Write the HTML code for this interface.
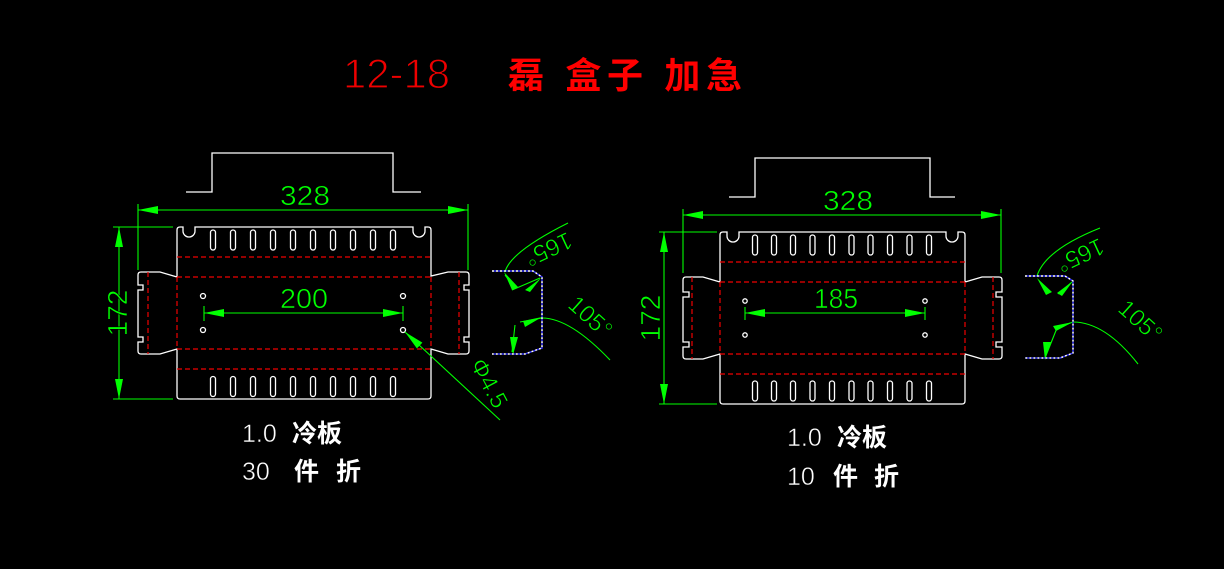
<!DOCTYPE html>
<html><head><meta charset="utf-8"><style>
html,body{margin:0;padding:0;background:#000;width:1224px;height:569px;overflow:hidden}
svg{display:block}
text{font-family:"Liberation Sans","Noto Sans CJK SC",sans-serif}
.d{font-weight:normal;stroke:#000;stroke-width:0.6;paint-order:normal}
</style></head><body>
<svg width="1224" height="569" viewBox="0 0 1224 569" xmlns="http://www.w3.org/2000/svg">
<rect width="1224" height="569" fill="#000"/>
<text x="343" y="88" fill="#e00" font-size="42" stroke="#000" stroke-width="1.2" textLength="107" lengthAdjust="spacingAndGlyphs">12-18</text>
<text x="508" y="88" fill="#f00" font-size="36" font-weight="bold" font-family="'Noto Sans CJK SC',sans-serif" textLength="234" lengthAdjust="spacing">磊 盒子 加急</text>

<defs>
<marker id="ar" viewBox="0 0 20 8" refX="20" refY="4" markerWidth="20" markerHeight="8" orient="auto-start-reverse" markerUnits="userSpaceOnUse"><path d="M0,0 L20,4 L0,8z" fill="#0f0"/></marker>
</defs>

<!-- LEFT -->
<g fill="none" stroke="#fff" stroke-width="1.3">
<path d="M186,192 H212 V153 H393 V192 H421"/>
<path d="M180,227 H183 V231 A6,6 0 1 0 195,231 V227 H413 V231 A6,6 0 1 0 425,231 V227 H428 Q431,227 431,230 V276 L448,272 H466 Q469,272 469,275 V285 H464 V290 H469 V337 H464 V342 H469 V351 Q469,354 466,354 H448 L431,349 V396 Q431,399 428,399 H180 Q177,399 177,396 V349 L160,354 H141 Q138,354 138,351 V342 H143 V337 H138 V290 H143 V285 H138 V275 Q138,272 141,272 H160 L177,277 V230 Q177,227 180,227Z"/>
<g id="sl1">
<rect x="210.5" y="230" width="5" height="20" rx="2.5"/><rect x="230.5" y="230" width="5" height="20" rx="2.5"/><rect x="250.5" y="230" width="5" height="20" rx="2.5"/><rect x="270.5" y="230" width="5" height="20" rx="2.5"/><rect x="290.5" y="230" width="5" height="20" rx="2.5"/><rect x="310.5" y="230" width="5" height="20" rx="2.5"/><rect x="330.5" y="230" width="5" height="20" rx="2.5"/><rect x="350.5" y="230" width="5" height="20" rx="2.5"/><rect x="370.5" y="230" width="5" height="20" rx="2.5"/><rect x="390.5" y="230" width="5" height="20" rx="2.5"/>
</g>
<use href="#sl1" y="146.5"/>
<circle cx="203" cy="296" r="2.5"/><circle cx="403" cy="296" r="2.5"/><circle cx="203" cy="330" r="2.5"/><circle cx="403" cy="330" r="2.5"/>
</g>
<g stroke="#e00" stroke-width="1.2" stroke-dasharray="5,3" fill="none">
<path d="M177,257 H431 M177,277 H431 M177,349 H431 M177,369 H431 M177,277 V349 M431,277 V349 M148,272 V354 M459,272 V354"/>
</g>
<g stroke="#0f0" stroke-width="1.1" fill="none">
<path d="M138,204 V270 M468,204 V270 M113,227 H173 M113,399 H173 M204,306 V321 M403,306 V321"/>
<path d="M138,210 H468" marker-start="url(#ar)" marker-end="url(#ar)"/>
<path d="M119,227 V399" marker-start="url(#ar)" marker-end="url(#ar)"/>
<path d="M204,313 H403" marker-start="url(#ar)" marker-end="url(#ar)"/>
<path d="M500,420 L405,332" marker-end="url(#ar)"/>
<path d="M505,272 Q510,252 568,223"/>
<path d="M542,318 Q570,318 610,360"/>
<path d="M505,275 L515,288 M512,290 L540,278 M512,352 L515,325 M520,322 L542,318"/>
</g>
<g fill="#0f0"><path d="M504,272 L512,290 L518,287Z M541,278 L525,290 L530,292Z M513,355 L510,337 L518,337Z M542,317 L523,321 L525,327Z"/></g>
<path d="M492,271 H533 L542,277 V348 L525,354 H492" fill="none" stroke="#fff" stroke-width="1.5" stroke-dasharray="2,2"/>
<path d="M492,271 H533 L542,277 V348 L525,354 H492" fill="none" stroke="#33f" stroke-width="1.5" stroke-dasharray="2,2" stroke-dashoffset="2"/>
<g fill="#0f0" font-size="28" class="d">
<text x="280" y="205" textLength="50" lengthAdjust="spacingAndGlyphs">328</text>
<text x="280" y="308" textLength="48" lengthAdjust="spacingAndGlyphs">200</text>
<text transform="translate(127,313) rotate(-90)" text-anchor="middle">172</text>
<text transform="translate(545,242) rotate(155)" text-anchor="middle" font-size="24">165°</text>
<text transform="translate(585,323) rotate(42)" text-anchor="middle" font-size="24">105°</text>
<text transform="translate(482,387) rotate(62)" text-anchor="middle" font-size="24">Φ4.5</text>
</g>
<text x="242" y="442" fill="#fff" font-size="25" stroke="#000" stroke-width="0.5">1.0<tspan x="292" font-family="'Noto Sans CJK SC',sans-serif" font-weight="bold" stroke="none">冷板</tspan></text>
<text x="242" y="480" fill="#fff" font-size="25" stroke="#000" stroke-width="0.5">30<tspan x="294" font-family="'Noto Sans CJK SC',sans-serif" font-weight="bold" stroke="none">件</tspan><tspan x="336" font-family="'Noto Sans CJK SC',sans-serif" font-weight="bold" stroke="none">折</tspan></text>

<!-- RIGHT -->
<g fill="none" stroke="#fff" stroke-width="1.3">
<path d="M729,197 H755 V158 H930 V197 H955"/>
<path d="M723,232 H727 V236 A6,6 0 1 0 739,236 V232 H946 V236 A6,6 0 1 0 958,236 V232 H962 Q965,232 965,235 V282 L982,277 H999 Q1002,277 1002,280 V292 H996 V297 H1002 V342 H996 V347 H1002 V356 Q1002,359 999,359 H982 L965,354 V401 Q965,404 962,404 H723 Q720,404 720,401 V354 L703,359 H686 Q683,359 683,356 V347 H689 V342 H683 V297 H689 V292 H683 V280 Q683,277 686,277 H703 L720,282 V235 Q720,232 723,232Z"/>
<g id="sl2">
<rect x="752.5" y="235" width="5" height="20" rx="2.5"/><rect x="771.5" y="235" width="5" height="20" rx="2.5"/><rect x="790.5" y="235" width="5" height="20" rx="2.5"/><rect x="810" y="235" width="5" height="20" rx="2.5"/><rect x="829.5" y="235" width="5" height="20" rx="2.5"/><rect x="849" y="235" width="5" height="20" rx="2.5"/><rect x="868" y="235" width="5" height="20" rx="2.5"/><rect x="887.5" y="235" width="5" height="20" rx="2.5"/><rect x="907" y="235" width="5" height="20" rx="2.5"/><rect x="926.5" y="235" width="5" height="20" rx="2.5"/>
</g>
<use href="#sl2" y="146"/>
<circle cx="745" cy="301" r="2.2"/><circle cx="925" cy="301" r="2.2"/><circle cx="745" cy="335" r="2.2"/><circle cx="925" cy="335" r="2.2"/>
</g>
<g stroke="#e00" stroke-width="1.2" stroke-dasharray="5,3" fill="none">
<path d="M720,262 H965 M720,282 H965 M720,354 H965 M720,374 H965 M720,282 V354 M965,282 V354 M692,277 V359 M993,277 V359"/>
</g>
<g stroke="#0f0" stroke-width="1.1" fill="none">
<path d="M683,209 V273 M1001,209 V273 M659,232 H717 M659,404 H717 M745,307 V320 M925,307 V320"/>
<path d="M683,215 H1001" marker-start="url(#ar)" marker-end="url(#ar)"/>
<path d="M664,232 V404" marker-start="url(#ar)" marker-end="url(#ar)"/>
<path d="M745,313 H925" marker-start="url(#ar)" marker-end="url(#ar)"/>
<path d="M1037,276 Q1045,250 1100,228"/>
<path d="M1073,322 Q1105,322 1138,364"/>
<path d="M1058,294 L1072,282 M1045,358 L1057,328 M1057,328 L1073,322"/>
</g>
<g fill="#0f0"><path d="M1037,278 L1046,295 L1052,292Z M1073,281 L1057,293 L1062,296Z M1045,360 L1043,342 L1051,342Z M1073,322 L1053,326 L1056,331Z"/></g>
<path d="M1025,276 H1065 L1073,281 V353 L1060,358 H1025" fill="none" stroke="#fff" stroke-width="1.5" stroke-dasharray="2,2"/>
<path d="M1025,276 H1065 L1073,281 V353 L1060,358 H1025" fill="none" stroke="#33f" stroke-width="1.5" stroke-dasharray="2,2" stroke-dashoffset="2"/>
<g fill="#0f0" font-size="28" class="d">
<text x="823" y="210" textLength="50" lengthAdjust="spacingAndGlyphs">328</text>
<text x="814" y="308" textLength="44" lengthAdjust="spacingAndGlyphs">185</text>
<text transform="translate(660,318) rotate(-90)" text-anchor="middle">172</text>
<text transform="translate(1077,248) rotate(155)" text-anchor="middle" font-size="24">165°</text>
<text transform="translate(1135,327) rotate(42)" text-anchor="middle" font-size="24">105°</text>
</g>
<text x="787" y="446" fill="#fff" font-size="25" stroke="#000" stroke-width="0.5">1.0<tspan x="837" font-family="'Noto Sans CJK SC',sans-serif" font-weight="bold" stroke="none">冷板</tspan></text>
<text x="787" y="485" fill="#fff" font-size="25" stroke="#000" stroke-width="0.5">10<tspan x="833" font-family="'Noto Sans CJK SC',sans-serif" font-weight="bold" stroke="none">件</tspan><tspan x="874" font-family="'Noto Sans CJK SC',sans-serif" font-weight="bold" stroke="none">折</tspan></text>
</svg>
</body></html>
